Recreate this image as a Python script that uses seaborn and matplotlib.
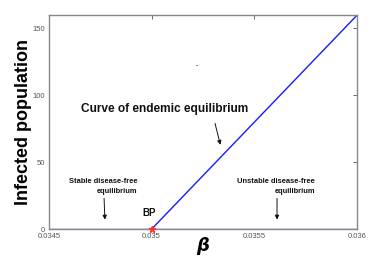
import matplotlib

matplotlib.use("Agg")
import matplotlib.pyplot as plt
import pandas as pd
import seaborn as sns

# bifurcation data
beta_stable = [0.0345, 0.035]
infected_stable = [0, 0]
beta_unstable = [0.035, 0.036]
infected_unstable = [0, 0]
beta_endemic = [0.035, 0.036]
infected_endemic = [0, 160]
bp_beta = [0.035]
bp_infected = [0]

x_ticks = [0.0345, 0.035, 0.0355, 0.036]
x_tick_labels = ["0.0345", "0.035", "0.0355", "0.036"]
y_ticks = [0, 50, 100, 150]

sns.set_theme(style="white")
plt.rcParams["font.family"] = ["Liberation Sans Narrow", "Liberation Sans", "DejaVu Sans"]

fig, ax = plt.subplots(figsize=(3.82, 2.60), dpi=100)
fig.subplots_adjust(left=0.128, right=0.935, top=0.942, bottom=0.119)

df_eq = pd.DataFrame({
    "beta": beta_stable + beta_unstable + beta_endemic,
    "I": infected_stable + infected_unstable + infected_endemic,
    "branch": ["stable"] * 2 + ["unstable"] * 2 + ["endemic"] * 2,
})
sns.lineplot(data=df_eq, x="beta", y="I", units="branch", estimator=None,
             color="#1a1aff", linewidth=1.0, ax=ax, sort=False)
ax.plot(bp_beta, bp_infected, marker="*", color="#ff3030", markersize=5,
        linestyle="none", clip_on=False, zorder=5)

ax.set_xlim(0.0345, 0.036)
ax.set_ylim(0, 160)
ax.set_xticks(x_ticks)
ax.set_xticklabels(x_tick_labels)
ax.set_yticks(y_ticks)
ax.tick_params(direction="in", length=3, width=0.6, labelsize=5.5,
               colors="#555555", top=True, right=True, pad=3)
for spine in ax.spines.values():
    spine.set_color("#888888")
    spine.set_linewidth(1.0)

ax.set_xlabel("β", fontsize=13, fontweight="bold", style="italic",
              family=["DejaVu Sans"], color="black", labelpad=-2)
ax.set_ylabel("Infected population", fontsize=13, fontweight="bold",
              family=["Liberation Sans", "DejaVu Sans"], color="black", labelpad=0)

bold = dict(fontweight="bold", color="#111111")
ax.text(0.035065, 89.5, "Curve of endemic equilibrium", fontsize=8.6,
        ha="center", va="center", **bold)
ax.annotate("", xy=(0.035338, 61), xytext=(0.035305, 81),
            arrowprops=dict(arrowstyle="-|>", color="#111111", lw=0.7,
                            mutation_scale=6))

ax.text(0.034929, 32, "Stable disease-free\nequilibrium", fontsize=5.4,
        ha="right", va="center", linespacing=1.5, **bold)
ax.annotate("", xy=(0.034773, 5), xytext=(0.034768, 25),
            arrowprops=dict(arrowstyle="-|>", color="#111111", lw=0.7,
                            mutation_scale=6))

ax.text(0.035795, 32, "Unstable disease-free\nequilibrium", fontsize=5.4,
        ha="right", va="center", linespacing=1.5, **bold)
ax.annotate("", xy=(0.03561, 5), xytext=(0.03561, 25),
            arrowprops=dict(arrowstyle="-|>", color="#111111", lw=0.7,
                            mutation_scale=6))

ax.text(0.034987, 12, "BP", fontsize=7, ha="center", va="center", **bold)
ax.text(0.035222, 122, "-", fontsize=5, ha="center", va="center", color="#111111")

fig.savefig("out.png", dpi=100)
